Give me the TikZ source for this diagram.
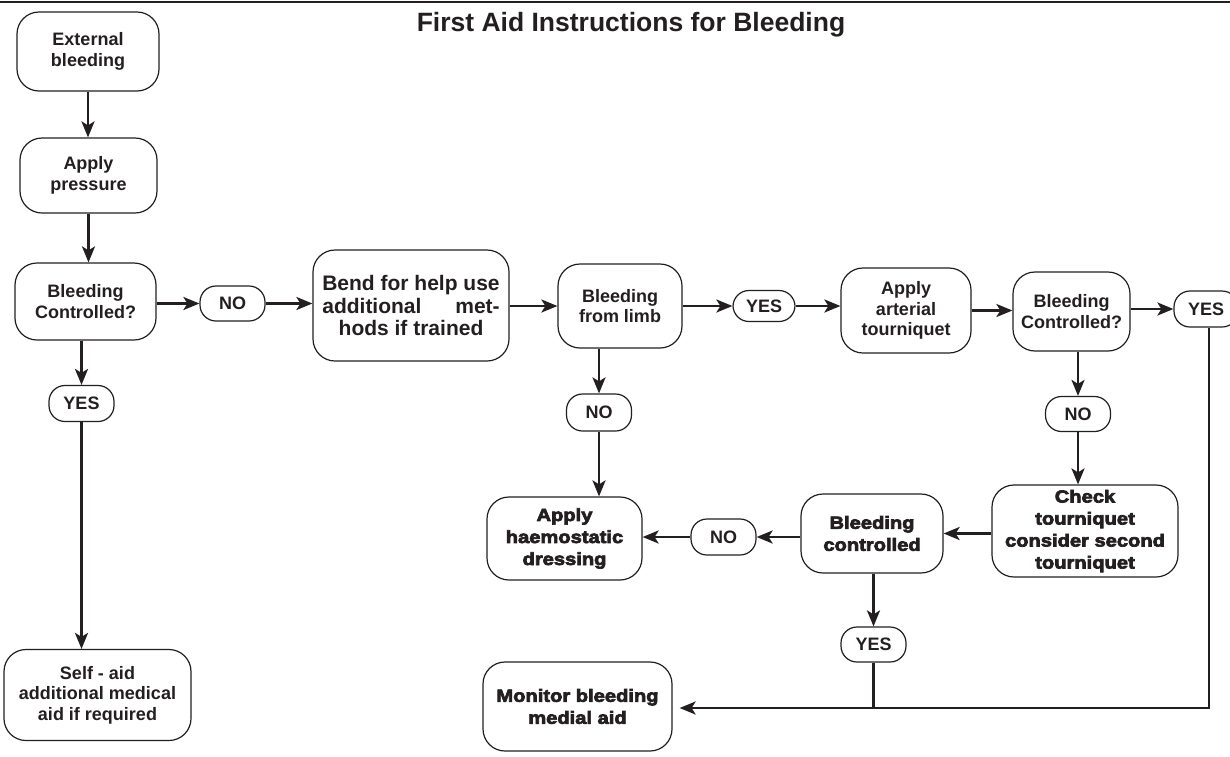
\documentclass[tikz,border=0pt]{standalone}
\usepackage{fontspec}
\usepackage{calc}
\setmainfont{Liberation Sans}
\newfontfamily\heavyfont[FakeBold=4,FakeStretch=1.15]{Liberation Sans Bold}
\usetikzlibrary{arrows.meta}
\definecolor{ink}{RGB}{35,31,32}
\begin{document}
\begin{tikzpicture}[x=1pt,y=-1pt,
 every node/.style={text=ink},
 box/.style={draw=ink, line width=1.2pt, rounded corners=22pt, align=center, inner sep=0pt, font=\bfseries\fontsize{18}{20.5}\selectfont},
 hbox/.style={box, font=\heavyfont\fontsize{17.5}{22}\selectfont},
 pill/.style={draw=ink, line width=1.2pt, rounded corners=16pt, inner sep=0pt, font=\bfseries\fontsize{18}{20}\selectfont},
 arr/.style={draw=ink, line width=2.6pt, -{Stealth[length=16pt,width=13pt,inset=4pt]}},
 ln/.style={draw=ink, line width=2.6pt}]
\useasboundingbox (0,0) rectangle (1230,756);
\fill[white] (0,0) rectangle (1230,756);
\draw[ink, line width=1.5pt] (0,2) -- (1230,2);
\node[font=\bfseries\fontsize{26.5}{30}\selectfont] (title) at (631,25) {First Aid Instructions for Bleeding};

% left column
\node[box, minimum width=142pt, minimum height=79pt] (ext) at (88,51.5) {External\\bleeding};
\node[box, minimum width=137pt, minimum height=75pt] (app) at (88.5,175.5) {Apply\\pressure};
\node[box, minimum width=141pt, minimum height=77pt] (bc1) at (85.5,301.5) {Bleeding\\Controlled?};
\node[pill, minimum width=65pt, minimum height=36pt] (yesL) at (81.5,403.5) {YES};
\node[box, minimum width=187pt, minimum height=91pt] (self) at (97.5,695) {Self - aid\\additional medical\\aid if required};

% top row
\node[pill, minimum width=65pt, minimum height=35pt] (no1) at (232.5,303.5) {NO};
\node[box, minimum width=196pt, minimum height=111pt, font=\bfseries\fontsize{21}{22.5}\selectfont] (bend) at (411,305.5)
  {Bend for help use\\\makebox[\widthof{Bend for help use}][s]{additional met-}\\hods if trained};
\node[box, minimum width=124pt, minimum height=84pt] (limb) at (620,306) {Bleeding\\from limb};
\node[pill, minimum width=62pt, minimum height=31pt] (yes1) at (764,306) {YES};
\node[box, minimum width=130pt, minimum height=85pt] (art) at (906,310.5) {Apply\\arterial\\tourniquet};
\node[box, minimum width=117pt, minimum height=79pt] (bc2) at (1071.5,311.5) {Bleeding\\Controlled?};
\node[pill, minimum width=64pt, minimum height=36pt] (yes2) at (1206,309) {YES};

% middle
\node[pill, minimum width=65pt, minimum height=37pt] (no2) at (599,412.5) {NO};
\node[pill, minimum width=65pt, minimum height=35pt] (no3) at (1078,414) {NO};
\node[hbox, minimum width=155pt, minimum height=83pt] (haem) at (564.5,538.5) {Apply\\haemostatic\\dressing};
\node[pill, minimum width=65pt, minimum height=36pt] (no4) at (723.5,537) {NO};
\node[hbox, minimum width=142pt, minimum height=79pt] (bc3) at (872,533.5) {Bleeding\\controlled};
\node[hbox, minimum width=186pt, minimum height=92pt] (check) at (1085,531) {Check\\tourniquet\\consider second\\tourniquet};
\node[pill, minimum width=65pt, minimum height=35pt] (yes3) at (873.5,644.5) {YES};
\node[hbox, minimum width=189pt, minimum height=89pt] (mon) at (577.5,706.5) {Monitor bleeding\\medial aid};

% connectors
\draw[arr] (ext.south) -- (ext.south |- app.north);
\draw[arr] (app.south) -- (app.south |- bc1.north);
\draw[arr] (bc1.south -| yesL) -- (yesL.north);
\draw[arr] (yesL.south) -- (yesL.south |- self.north);
\draw[arr] (bc1.east |- no1) -- (no1.west);
\draw[arr] (no1.east) -- (no1.east -| bend.west);
\draw[arr] (bend.east |- limb) -- (limb.west);
\draw[arr] (limb.east |- yes1) -- (yes1.west);
\draw[arr] (yes1.east) -- (yes1.east -| art.west);
\draw[arr] (art.east) -- (art.east -| bc2.west);
\draw[arr] (bc2.east |- yes2) -- (yes2.west);
\draw[arr] (limb.south -| no2) -- (no2.north);
\draw[arr] (no2.south) -- (no2.south |- haem.north);
\draw[arr] (bc2.south -| no3) -- (no3.north);
\draw[arr] (no3.south) -- (no3.south |- check.north);
\draw[arr] (check.west |- bc3) -- (bc3.east);
\draw[arr] (bc3.west |- no4) -- (no4.east);
\draw[arr] (no4.west) -- (no4.west -| haem.east);
\draw[arr] (bc3.south -| yes3) -- (yes3.north);
\coordinate (j) at (1209,708);
\draw[arr, shorten >=7pt] (yes2.south -| j) -- (j) -- (j -| mon.east);
\draw[ln] (yes3.south) -- (yes3.south |- j);
\end{tikzpicture}
\end{document}
